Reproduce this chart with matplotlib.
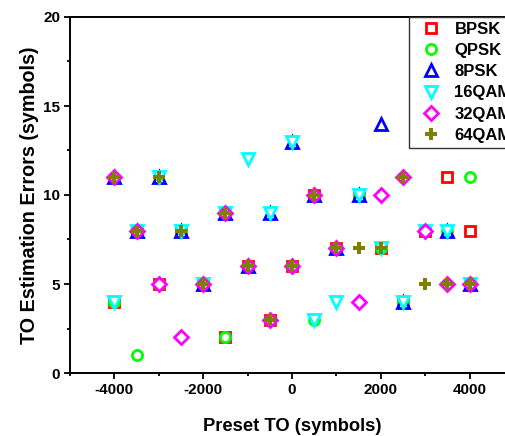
import numpy as np
import matplotlib
matplotlib.use("Agg")
import matplotlib.pyplot as plt
from matplotlib.ticker import MultipleLocator

plt.rcParams['font.family'] = ['Liberation Sans', 'DejaVu Sans']
plt.rcParams['font.weight'] = 'bold'
plt.rcParams['axes.unicode_minus'] = False

preset_to = [-4000, -3500, -3000, -2500, -2000, -1500, -1000, -500, 0,
             500, 1000, 1500, 2000, 2500, 3000, 3500, 4000]

bpsk  = [4, 8, 5, 8, 5, 2, 6, 3, 6, 10, 7, 10, 7, 4, 8, 11, 8]
qpsk  = [4, 1, 5, 8, 5, 2, 6, 3, 6, 3, 7, 10, 7, 4, 8, 8, 11]
psk8  = [11, 8, 11, 8, 5, 9, 6, 9, 13, 10, 7, 10, 14, 4, 16, 8, 5]
qam16 = [4, 8, 11, 8, 5, 9, 12, 9, 13, 3, 4, 10, 7, 4, 8, 8, 5]
qam32 = [11, 8, 5, 2, 5, 9, 6, 3, 6, 10, 7, 4, 10, 11, 8, 5, 5]
qam64 = [11, 8, 11, 8, 5, 9, 6, 3, 6, 10, 7, 7, 7, 11, 5, 5, 5]

labels = ['BPSK', 'QPSK', '8PSK', '16QAM', '32QAM', '64QAM']
colors = ['#FF0000', '#00FF00', '#0000FF', '#00FFFF', '#FF00FF', '#808000']
markers = ['s', 'o', '^', 'v', 'D', 'P']
msizes = [6.6, 7.3, 8.6, 8.6, 6.8, 9.2]
series = [bpsk, qpsk, psk8, qam16, qam32, qam64]

W, H = 506, 436
fig = plt.figure(figsize=(W / 100, H / 100), dpi=100)
ax = fig.add_axes([70 / W, 63 / H, 444 / W, 356 / H])

for y, lab, c, m, ms in zip(series, labels, colors, markers, msizes):
    if m == 'P':
        ax.plot(preset_to, y, linestyle='none', marker=m, markersize=ms,
                color=c, markeredgewidth=0, label=lab)
    else:
        ax.plot(preset_to, y, linestyle='none', marker=m, markersize=ms,
                markerfacecolor='white', markeredgecolor=c,
                markeredgewidth=2.0, label=lab)

ax.set_xlim(-5000, 5000)
ax.set_ylim(0, 20)
ax.xaxis.set_major_locator(MultipleLocator(2000))
ax.xaxis.set_minor_locator(MultipleLocator(1000))
ax.yaxis.set_major_locator(MultipleLocator(5))
ax.yaxis.set_minor_locator(MultipleLocator(2.5))
ax.tick_params(which='major', direction='out', length=4.5, width=1.3,
               labelsize=11, pad=2.5)
ax.tick_params(which='minor', direction='out', length=2.5, width=1.3)
ax.tick_params(top=False, right=False, which='both')
for lbl in ax.get_xticklabels() + ax.get_yticklabels():
    lbl.set_fontweight('bold')
for sp in ax.spines.values():
    sp.set_linewidth(1.4)

ax.set_xlabel('Preset TO (symbols)', fontsize=13.2, fontweight='bold', labelpad=15)
ax.set_ylabel('TO Estimation Errors (symbols)', fontsize=14.2, fontweight='bold', labelpad=3)

leg = fig.legend(loc='upper left', bbox_to_anchor=(409 / W, 1 - 17 / H),
                 bbox_transform=fig.transFigure, borderaxespad=0,
                 frameon=True, fancybox=False, framealpha=1,
                 edgecolor='#333333', handletextpad=0.43,
                 labelspacing=0.37, handlelength=2.0, borderpad=0.3,
                 prop={'weight': 'bold', 'size': 12})
leg.get_frame().set_linewidth(1.0)
leg.set_zorder(10)

fig.savefig('out.png', dpi=100)
